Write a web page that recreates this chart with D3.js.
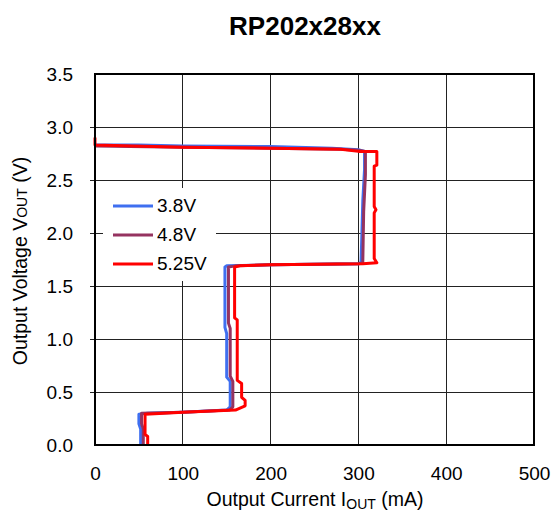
<!DOCTYPE html>
<html><head><meta charset="utf-8">
<script src="https://cdn.jsdelivr.net/npm/d3@7"></script>
<style>body{margin:0;background:#fff}svg{display:block;font-family:"Liberation Sans",Arial,sans-serif}</style>
</head><body>
<script>
const title = "RP202x28xx";
const seriesNames = ["3.8V", "4.8V", "5.25V"];
const seriesColors = ["#3f6ff0", "#953360", "#ff0000"];
const xTicks = [0, 100, 200, 300, 400, 500];
const yTicks = [0, 0.5, 1.0, 1.5, 2.0, 2.5, 3.0, 3.5];
// [current mA, voltage V]
const blue = [[0,2.83],[50,2.83],[100,2.82],[200,2.815],[270,2.80],[300,2.785],[307,2.77],[307,2.60],[305,2.30],[304,2.00],[303,1.72],[300,1.71],[200,1.70],[150,1.69],[148,1.68],[148,1.11],[150,1.05],[150,0.64],[154,0.60],[154,0.36],[150,0.33],[100,0.31],[60,0.30],[50,0.29],[50,0.20],[52,0.15],[52,0]];
const purple = [[0,2.82],[100,2.81],[200,2.80],[280,2.79],[300,2.78],[308,2.77],[308,2.55],[306,2.20],[305,1.72],[300,1.71],[200,1.70],[160,1.69],[152,1.68],[152,1.15],[154,1.10],[154,0.65],[157,0.60],[157,0.36],[153,0.33],[100,0.31],[53,0.30],[53,0.20],[55,0.15],[55,0]];
const red = [[0,2.90],[0,2.83],[100,2.81],[200,2.80],[280,2.79],[300,2.77],[321,2.77],[321,2.64],[318,2.63],[318,2.25],[320,2.22],[318,2.19],[318,1.76],[321,1.72],[305,1.71],[200,1.70],[165,1.69],[159,1.68],[159,1.20],[162,1.18],[162,0.61],[167,0.58],[167,0.45],[171,0.42],[171,0.37],[160,0.33],[100,0.31],[57,0.29],[57,0.10],[60,0.08],[60,0]];
const series = [blue, purple, red];

const W = 553, H = 513;
const m = {l:95, r:19, t:74, b:68};
const FONT = "Liberation Sans, Arial, sans-serif";
const svg = d3.select("body").append("svg").attr("width", W).attr("height", H);
const x = d3.scaleLinear().domain([0, 500]).range([m.l, W - m.r]);
const y = d3.scaleLinear().domain([0, 3.5]).range([H - m.b, m.t]);

// gridlines
svg.append("g").selectAll("line").data(xTicks.slice(1, -1)).join("line")
  .attr("x1", d => x(d)).attr("x2", d => x(d)).attr("y1", y(0)).attr("y2", y(3.5))
  .attr("stroke", "#222").attr("stroke-width", 1).attr("shape-rendering", "crispEdges");
svg.append("g").selectAll("line").data(yTicks.slice(1, -1)).join("line")
  .attr("x1", x(0) - 5).attr("x2", x(500)).attr("y1", d => y(d)).attr("y2", d => y(d))
  .attr("stroke", "#222").attr("stroke-width", 1).attr("shape-rendering", "crispEdges");

// legend background
const lg = svg.append("g");
lg.append("rect").attr("x", 103).attr("y", 188).attr("width", 113).attr("height", 93).attr("fill", "#fff");

// lines
const line = d3.line().x(d => x(d[0])).y(d => y(d[1]));
svg.append("g").selectAll("path").data(series).join("path")
  .attr("d", line).attr("fill", "none")
  .attr("stroke", (d, i) => seriesColors[i]).attr("stroke-width", 3)
  .attr("stroke-linejoin", "round");

// frame
svg.append("rect").attr("x", x(0)).attr("y", y(3.5)).attr("width", x(500) - x(0)).attr("height", y(0) - y(3.5))
  .attr("fill", "none").attr("stroke", "#000").attr("stroke-width", 1.2).attr("shape-rendering", "crispEdges");

// axes
const xAxis = d3.axisBottom(x).tickValues(xTicks).tickSize(0).tickPadding(22).tickFormat(d3.format("d"));
const gx = svg.append("g").attr("transform", `translate(0,${y(0)})`).call(xAxis);
gx.select(".domain").remove();
gx.selectAll("text").attr("font-size", 19).attr("fill", "#000").attr("font-family", FONT);
const yAxis = d3.axisLeft(y).tickValues(yTicks).tickSize(0).tickPadding(22).tickFormat(d3.format(".1f"));
const gy = svg.append("g").attr("transform", `translate(${x(0)},0)`).call(yAxis);
gy.select(".domain").remove();
gy.selectAll("text").attr("font-size", 19).attr("fill", "#000").attr("font-family", FONT);

// legend items
seriesNames.forEach((n, i) => {
  const yy = 206 + i * 29;
  lg.append("line").attr("x1", 113).attr("x2", 153).attr("y1", yy).attr("y2", yy)
    .attr("stroke", seriesColors[i]).attr("stroke-width", 3);
  lg.append("text").attr("x", 157).attr("y", yy + 6).attr("font-size", 19).text(n);
});

// title
svg.append("text").attr("x", 305).attr("y", 35).attr("text-anchor", "middle")
  .attr("font-size", 26).attr("font-weight", "bold").text(title);

// x title
const xt = svg.append("text").attr("x", 315).attr("y", 506).attr("text-anchor", "middle").attr("font-size", 19.5);
xt.append("tspan").text("Output Current I");
xt.append("tspan").attr("font-size", 14).attr("dy", 3).text("OUT");
xt.append("tspan").attr("dy", -3).text(" (mA)");

// y title
const yt = svg.append("text").attr("transform", `translate(27,261) rotate(-90)`)
  .attr("text-anchor", "middle").attr("font-size", 19.5);
yt.append("tspan").text("Output Voltage V");
yt.append("tspan").attr("font-size", 14).text("OUT");
yt.append("tspan").text(" (V)");
</script>
</body></html>
